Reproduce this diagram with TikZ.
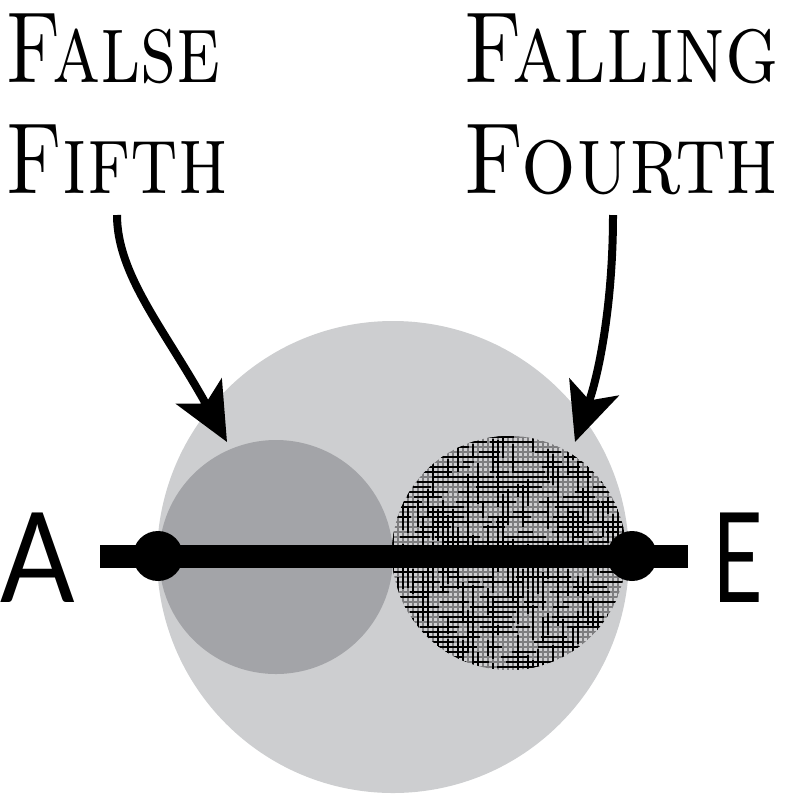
\documentclass[tikz,border=0pt]{standalone}
\usepackage{fontspec}
\newfontfamily\labelsans{Lato}
\usetikzlibrary{arrows.meta}
\definecolor{bigc}{RGB}{205,206,208}
\definecolor{leftc}{RGB}{163,164,168}
\definecolor{hatchbase}{RGB}{208,208,210}
\definecolor{hatchgrid}{RGB}{125,125,127}
\tikzset{
  x=1pt, y=-1pt,
  title/.style={inner sep=0pt, anchor=base west, font=\fontsize{101}{112}\selectfont\scshape},
  letter/.style={inner sep=0pt, anchor=base west, font=\fontsize{125}{125}\selectfont\labelsans},
  pointer/.style={line width=8pt, -{Stealth[length=58pt,width=52pt,inset=14pt]}},
  bar/.style={line width=23pt},
  dot/.style={circle, fill=black, minimum size=50pt, inner sep=0pt},
}
\begin{document}
\begin{tikzpicture}
\useasboundingbox (0,0) rectangle (800,796);
% circles
\fill[bigc] (393,557) circle (236);
\fill[leftc] (276,557) circle (117);
\begin{scope}
  \clip (509,553) circle (117);
  \fill[hatchbase] (509,553) circle (117);
  \foreach \k in {0,...,47} {
    \draw[hatchgrid, line width=1.2pt] (392,437+5*\k) -- (626,437+5*\k);
    \draw[hatchgrid, line width=1.2pt] (393+5*\k,436) -- (393+5*\k,670);
  }
  \pgfmathsetseed{7}
  \foreach \k in {1,...,300} {
    \pgfmathsetmacro\hx{380+240*rnd}
    \pgfmathsetmacro\hy{437+5*int(47*rnd)}
    \pgfmathsetmacro\hl{10+35*rnd}
    \draw[black, line width=1.3pt] (\hx,\hy) -- ++(\hl,0);
  }
  \foreach \k in {1,...,220} {
    \pgfmathsetmacro\vx{393+5*int(47*rnd)}
    \pgfmathsetmacro\vy{425+240*rnd}
    \pgfmathsetmacro\vl{10+35*rnd}
    \draw[black, line width=1.3pt] (\vx,\vy) -- ++(0,\vl);
  }
\end{scope}
% axis
\coordinate (lstart) at (100,556.5);
\coordinate (rend) at (688,556.5);
\draw[bar] (lstart) -- (rend);
\node[dot] (pa) at (158,556) {};
\node[dot] (pe) at (632,556) {};
% letters
\node[letter, xscale=0.88] (A) at (0,602) {A};
\node[letter, xscale=0.7] (E) at (712,602) {E};
% titles
\node[title, xscale=0.78] (t1a) at (5,82) {False};
\node[title, xscale=0.80] (t1b) at (5,193) {Fifth};
\node[title, xscale=0.825] (t2a) at (463,82) {Falling};
\node[title, xscale=0.85] (t2b) at (463,193) {Fourth};
% arrows
\coordinate (s1) at (117,215);
\coordinate (e1) at (227,442);
\coordinate (s2) at (613,215);
\coordinate (e2) at (575,442);
\draw[pointer] (s1) .. controls (117,275) and (165,330) .. (e1);
\draw[pointer] (s2) .. controls (613,300) and (600,370) .. (e2);
\end{tikzpicture}
\end{document}
